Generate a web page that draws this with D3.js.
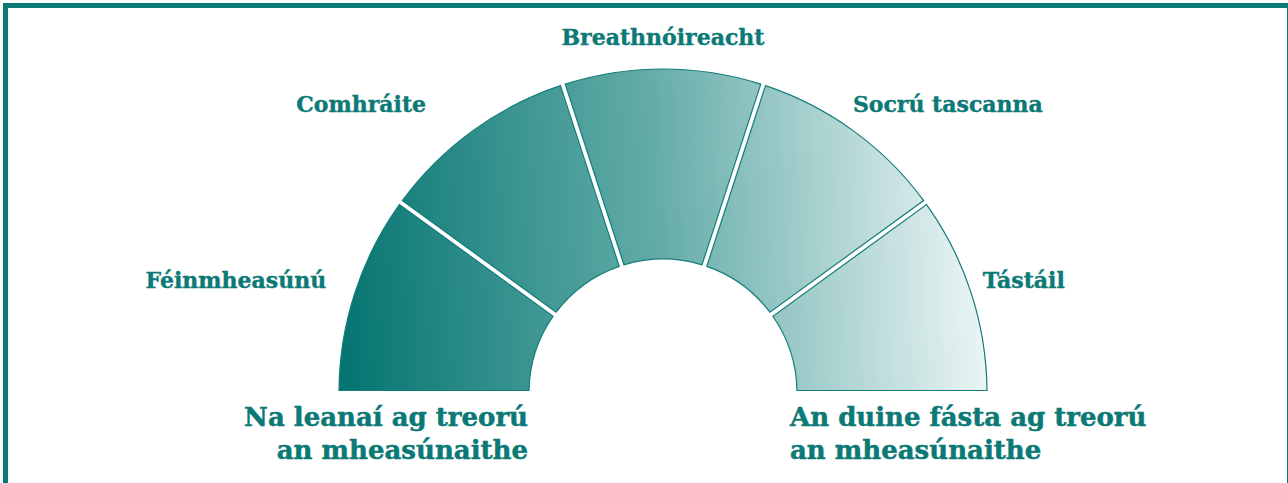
<!DOCTYPE html>
<html>
<head>
<meta charset="utf-8">
<script src="https://cdn.jsdelivr.net/npm/d3@7"></script>
<style>
  html, body { margin: 0; padding: 0; background: #ffffff; }
  svg { display: block; }
</style>
</head>
<body>
<svg id="chart" width="1288" height="483"></svg>
<script>
// ---- data ----
const categories = ["Féinmheasúnú", "Comhráite", "Breathnóireacht", "Socrú tascanna", "Tástáil"];
const shares = [1, 1, 1, 1, 1];
const leftCaption = ["Na leanaí ag treorú", "an mheasúnaithe"];
const rightCaption = ["An duine fásta ag treorú", "an mheasúnaithe"];

// ---- layout ----
const cx = 663, cy = 393;
const outerR = 324, innerR = 134;
const teal = "#0b7975";
const font = "'DejaVu Serif', serif";

const svg = d3.select("#chart");

// frame
svg.append("rect")
  .attr("x", 5.5).attr("y", 5.5)
  .attr("width", 1284).attr("height", 500)
  .attr("fill", "none")
  .attr("stroke", teal)
  .attr("stroke-width", 5);

// gradient across the whole gauge (in the gauge group's coordinates)
const defs = svg.append("defs");
const grad = defs.append("linearGradient")
  .attr("id", "gaugeGrad")
  .attr("gradientUnits", "userSpaceOnUse")
  .attr("x1", -outerR).attr("y1", 0)
  .attr("x2", outerR).attr("y2", -40);
grad.append("stop").attr("offset", "0%").attr("stop-color", "#037470");
grad.append("stop").attr("offset", "50%").attr("stop-color", "#62aba7");
grad.append("stop").attr("offset", "100%").attr("stop-color", "#ebf5f5");

const pie = d3.pie().sort(null).value(d => d)
  .startAngle(-Math.PI / 2).endAngle(Math.PI / 2);
const arcs = pie(shares);

const arc = d3.arc()
  .innerRadius(innerR)
  .outerRadius(outerR)
  .padAngle(5 / outerR)
  .padRadius(outerR);

const g = svg.append("g").attr("transform", `translate(${cx},${cy})`);
g.selectAll("path.seg")
  .data(arcs)
  .join("path")
  .attr("class", "seg")
  .attr("d", arc)
  .attr("fill", "url(#gaugeGrad)")
  .attr("stroke", "#127d79")
  .attr("stroke-width", 1.2);

// category labels, placed outside each segment's mid angle
const labelR = 352;
const labelNudge = [-2, -30, 0, -17, -15];
const mid = d => (d.startAngle + d.endAngle) / 2;
g.append("g").selectAll("text")
  .data(arcs)
  .join("text")
  .attr("x", (d, i) => labelR * Math.sin(mid(d)) + labelNudge[i])
  .attr("y", d => -labelR * Math.cos(mid(d)))
  .attr("dy", "0.18em")
  .attr("text-anchor", d => Math.abs(mid(d)) < 0.1 ? "middle" : (mid(d) < 0 ? "end" : "start"))
  .attr("font-family", font)
  .attr("font-weight", "bold")
  .attr("font-size", 22)
  .attr("fill", teal)
  .attr("stroke", teal)
  .attr("stroke-width", 0.4)
  .text((d, i) => categories[i]);

// captions
function caption(lines, x, anchor) {
  g.append("g").selectAll("text")
    .data(lines)
    .join("text")
    .attr("x", x)
    .attr("y", (d, i) => 33 + i * 33)
    .attr("text-anchor", anchor)
    .attr("font-family", font)
    .attr("font-weight", "bold")
    .attr("font-size", 26)
    .attr("fill", teal)
    .attr("stroke", teal)
    .attr("stroke-width", 0.5)
    .text(d => d);
}
caption(leftCaption, -innerR - 1, "end");
caption(rightCaption, innerR - 7, "start");
</script>
</body>
</html>
